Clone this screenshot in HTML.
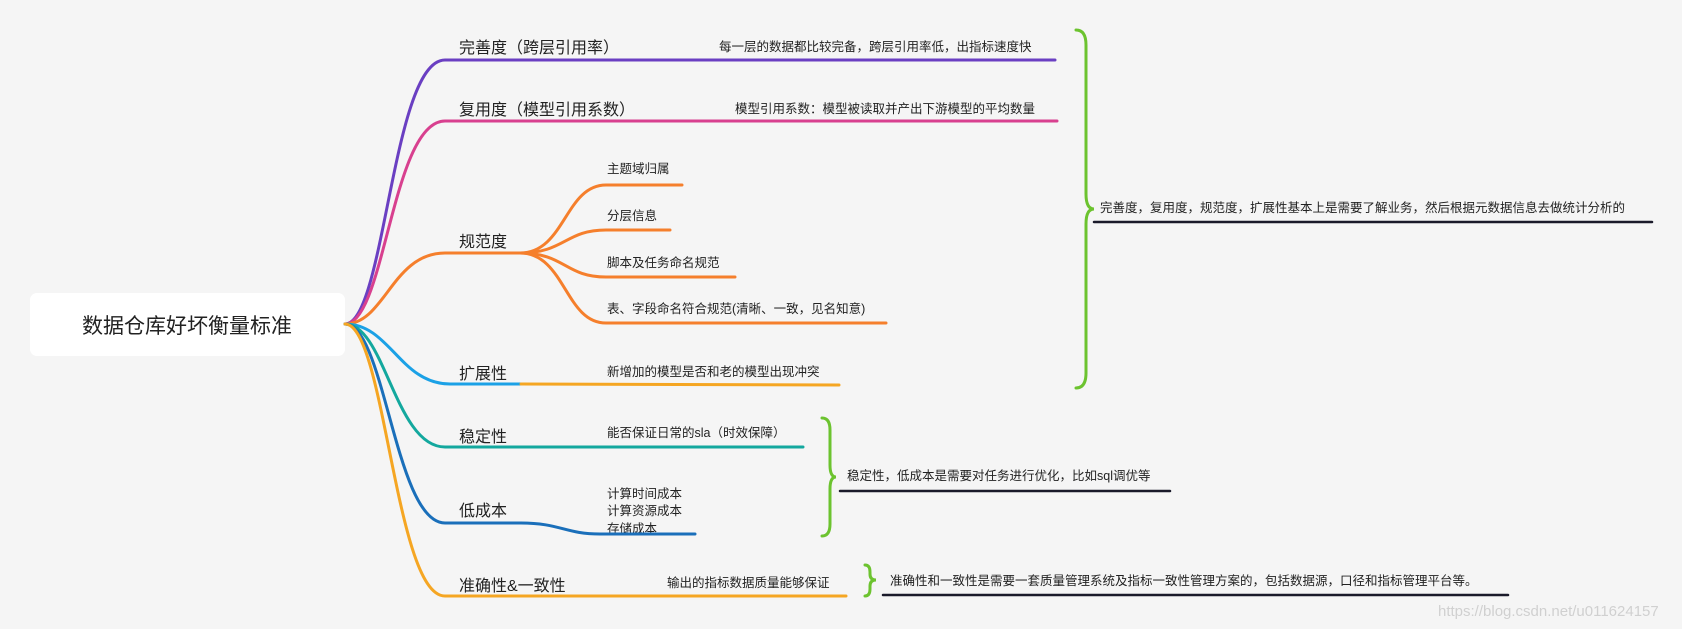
<!DOCTYPE html>
<html><head><meta charset="utf-8"><style>
html,body{margin:0;padding:0;background:#f5f5f5;}
svg{display:block;}
text{font-family:"Liberation Sans","Noto Sans CJK SC",sans-serif;fill:#222;}
</style></head><body>
<svg width="1682" height="629" viewBox="0 0 1682 629" xmlns="http://www.w3.org/2000/svg">
<rect x="0" y="0" width="1682" height="629" fill="#f5f5f5"/>
<rect x="30" y="293" width="315" height="63" rx="7" fill="#ffffff"/>
<text x="187" y="333" font-size="21" text-anchor="middle">数据仓库好坏衡量标准</text>
<g fill="none" stroke-width="3" stroke-linecap="round">
<!-- purple -->
<path d="M345,324 C385,324 392,60 445,60 L633,60 C660,60 660,60 700,60 L1055,60" stroke="#6a3fc2"/>
<!-- pink -->
<path d="M345,324 C385,324 392,121 445,121 L1057,121" stroke="#d8408f"/>
<!-- orange -->
<path d="M345,324 C385,324 392,253 445,253 L526,253" stroke="#f57f2c"/>
<path d="M520,253 C565,253 565,185 606,185 L682,185" stroke="#f57f2c"/>
<path d="M520,253 C565,253 565,230 606,230 L670,230" stroke="#f57f2c"/>
<path d="M520,253 C565,253 565,277 606,277 L735,277" stroke="#f57f2c"/>
<path d="M520,253 C565,253 565,323 606,323 L886,323" stroke="#f57f2c"/>
<!-- light blue -->
<path d="M345,324 C390,324 400,384 450,384 L521,384" stroke="#1ba1e6"/>
<path d="M521,384 L839,385" stroke="#f5a623"/>
<!-- teal -->
<path d="M345,324 C385,324 395,447 445,447 L803,447" stroke="#13a89e"/>
<!-- dark blue -->
<path d="M345,324 C385,324 395,523 445,523 L521,523 C560,523 565,534 600,534 L695,534" stroke="#1a6fba"/>
<!-- yellow -->
<path d="M345,324 C385,324 395,596 445,596 L846,596" stroke="#f5a623"/>
<!-- braces -->
<path d="M1076,30 Q1086,30 1086,45 L1086,194 Q1086,209 1094,209 Q1086,209 1086,224 L1086,373 Q1086,388 1076,388" stroke="#6cc32f"/>
<path d="M822,418 Q830,418 830,430 L830,465 Q830,477 836,477 Q830,477 830,489 L830,524 Q830,536 822,536" stroke="#6cc32f"/>
<path d="M865,565 Q870,565 870,572 L870,574 Q870,580 876,580 Q870,580 870,586 L870,589 Q870,596 865,596" stroke="#6cc32f"/>
<!-- note underlines -->
<path d="M1094,222 L1652,222" stroke="#1a1a2a" stroke-width="2.5"/>
<path d="M840,491 L1170,491" stroke="#1a1a2a" stroke-width="2.5"/>
<path d="M883,595 L1508,595" stroke="#1a1a2a" stroke-width="2.5"/>
</g>
<g font-size="16">
<text x="459" y="53">完善度（跨层引用率）</text>
<text x="459" y="115">复用度（模型引用系数）</text>
<text x="459" y="247">规范度</text>
<text x="459" y="379">扩展性</text>
<text x="459" y="442">稳定性</text>
<text x="459" y="516">低成本</text>
<text x="459" y="591">准确性&amp;一致性</text>
</g>
<g font-size="12.5">
<text x="719" y="51">每一层的数据都比较完备，跨层引用率低，出指标速度快</text>
<text x="735" y="113">模型引用系数：模型被读取并产出下游模型的平均数量</text>
<text x="607" y="173">主题域归属</text>
<text x="607" y="220">分层信息</text>
<text x="607" y="267">脚本及任务命名规范</text>
<text x="607" y="313">表、字段命名符合规范(清晰、一致，见名知意)</text>
<text x="607" y="376">新增加的模型是否和老的模型出现冲突</text>
<text x="607" y="437">能否保证日常的sla（时效保障）</text>
<text x="607" y="498">计算时间成本</text>
<text x="607" y="515">计算资源成本</text>
<text x="607" y="533">存储成本</text>
<text x="667" y="587">输出的指标数据质量能够保证</text>
<text x="1100" y="212">完善度，复用度，规范度，扩展性基本上是需要了解业务，然后根据元数据信息去做统计分析的</text>
<text x="847" y="480">稳定性，低成本是需要对任务进行优化，比如sql调优等</text>
<text x="890" y="585">准确性和一致性是需要一套质量管理系统及指标一致性管理方案的，包括数据源，口径和指标管理平台等。</text>
</g>
<path d="M695,534 L600,534" stroke="#1a6fba" stroke-width="3" fill="none"/>
<text x="1438" y="616" font-size="15" style="fill:#d0d0d0">https://blog.csdn.net/u011624157</text>
</svg>
</body></html>
